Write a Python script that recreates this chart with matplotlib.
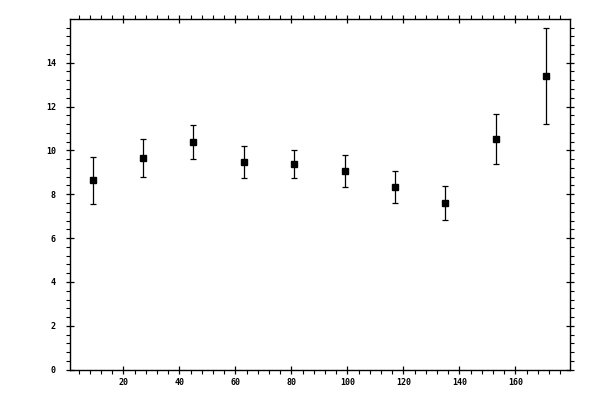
import matplotlib
matplotlib.use("Agg")
import matplotlib.pyplot as plt
from matplotlib.ticker import MultipleLocator

# bin centres, mean values and error half-widths
x_vals = [9, 27, 45, 63, 81, 99, 117, 135, 153, 171]
y_vals = [8.63, 9.66, 10.38, 9.47, 9.38, 9.05, 8.33, 7.59, 10.53, 13.40]
y_err = [1.08, 0.86, 0.79, 0.75, 0.63, 0.72, 0.72, 0.78, 1.15, 2.18]

fig = plt.figure(figsize=(6, 4), dpi=100)
ax = fig.add_axes([0.116, 0.0758, 0.8345, 0.876])

ax.errorbar(x_vals, y_vals, yerr=y_err, fmt="s", color="black",
            markersize=5.0, elinewidth=0.9, capsize=2.4, capthick=0.9)

ax.set_xlim(0.8, 179.6)
ax.set_ylim(0, 15.98)
ax.xaxis.set_major_locator(MultipleLocator(20))
ax.xaxis.set_minor_locator(MultipleLocator(4))
ax.yaxis.set_major_locator(MultipleLocator(2))
ax.yaxis.set_minor_locator(MultipleLocator(0.4))

for sp in ax.spines.values():
    sp.set_linewidth(1.0)

ax.tick_params(which="major", direction="inout", length=5.8, width=0.9,
               top=True, right=True, labelsize=6)
ax.tick_params(which="minor", direction="out", length=2.9, width=0.8,
               top=True, right=True)
ax.tick_params(axis="y", which="major", pad=7)
ax.tick_params(axis="x", which="major", pad=3)

for lbl in ax.get_xticklabels() + ax.get_yticklabels():
    lbl.set_family("DejaVu Sans Mono")
    lbl.set_fontweight("bold")

fig.savefig("out.png", dpi=100)
